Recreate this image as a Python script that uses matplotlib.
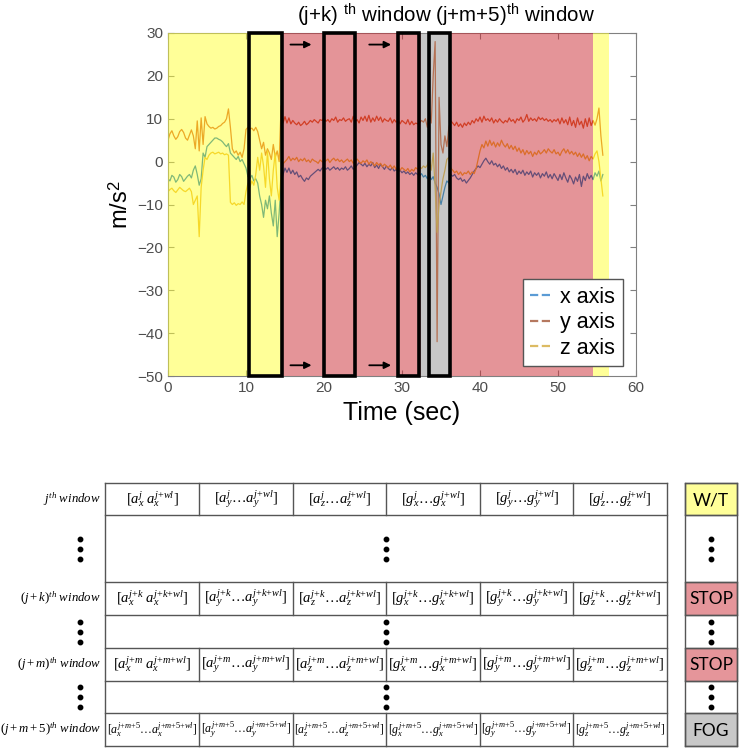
import matplotlib.pyplot as plt
import numpy as np
from matplotlib.lines import Line2D
from matplotlib.patches import Rectangle

plt.rcParams['font.family'] = ['Liberation Sans', 'DejaVu Sans']
plt.rcParams['mathtext.fontset'] = 'custom'
plt.rcParams['mathtext.rm'] = 'Liberation Serif'
plt.rcParams['mathtext.it'] = 'Liberation Serif:italic'
plt.rcParams['mathtext.bf'] = 'Liberation Serif:bold'
plt.rcParams['mathtext.sf'] = 'Liberation Sans'

# accelerometer signals, one sample every 0.25 s
dt = 0.25
acc_x = [-4.0, -4.5, -3.2, -3.6, -4.8, -4.2, -3.0, -3.5, -4.6, -4.0, -3.4, -3.0, -3.8,
         -2.0, -1.0, -3.0, -5.5, -4.0, 2.0, 1.0, 3.5, 4.0, 4.5, 5.0, 5.5,
         5.5, 5.2, 5.0, 4.6, 4.0, 3.5, 4.2, 2.0, 1.5, 1.0, 0.5, 1.2,
         0.0, 0.5, -0.5, -1.5, -3.5, -4.0, -3.2, -4.5, -4.0, -5.0, -8.0, -10.0,
         -13.0, -9.0, -11.0, -8.0, -12.0, -15.0, -9.0, -17.5, -12.0, -5.0, -3.0, -1.5,
         -2.5, -1.5, -2.8, -2.0, -3.0, -2.4, -3.6, -3.2, -4.0, -4.6, -3.8, -4.2,
         -3.4, -3.0, -2.6, -2.2, -1.8, -2.2, -1.5, -1.2, -1.8, -1.4, -2.0, -1.6,
         -1.2, -1.8, -1.4, -2.0, -1.5, -1.8, -1.2, -2.0, -1.6, -1.0, -1.8, -1.4,
         -0.8, -0.2, -0.6, -1.0, -0.4, -1.2, -0.6, -1.0, -0.2, -1.4, -0.8, -1.6,
         -0.6, -1.2, -1.8, -1.0, -1.6, -2.0, -1.4, -2.2, -1.8, -2.4, -2.0, -2.6,
         -2.2, -2.8, -2.4, -3.0, -2.6, -3.2, -2.6, -3.0,
         -3.4, -2.8, -3.6, -3.2, -4.0, -3.0, -4.2, -3.5,
         -5.0, -6.0, -7.5, -10.0, -8.0, -6.0, -4.5, -5.0, -3.0,
         -3.4, -3.0, -3.8,
         -4.2, -3.8, -4.6, -4.2, -5.0, -4.4, -3.8, -3.0, -2.2, -1.6, -1.0, -1.4,
         -0.6, 0.2, 0.8, 0.0, -0.6, 0.2, -0.8, -0.4, -1.2, -0.6, -1.6, -1.0,
         -2.0, -1.4, -2.4, -1.8, -2.6, -1.8, -3.0, -2.2, -2.8, -2.0, -3.2, -2.4,
         -3.0, -2.2, -3.6, -2.6, -3.2, -2.6, -3.8, -2.8, -3.4, -2.4, -3.8, -3.0,
         -4.0, -2.8, -3.6, -4.4, -3.0, -4.2, -2.6, -3.8, -4.8, -3.2, -4.0, -5.2,
         -3.6, -4.6, -3.0, -5.8, -3.4, -4.4, -2.8, -4.0,
         -3.2, -4.2, -2.6, -3.4, -2.2, -4.5, -3.0]
acc_y = [5.0, 6.5, 7.2, 6.0, 5.2, 5.8, 7.0, 7.5, 6.8, 5.5, 5.0, 6.2, 7.4,
         6.0, 3.0, 9.5, 2.5, 10.2, 4.0, 10.5, 8.8, 8.2, 7.8, 8.0, 7.6,
         7.8, 8.2, 8.4, 8.9, 9.2, 10.0, 12.3, 8.0, 3.0, 2.0, 2.5, 1.5,
         2.2, 1.0, 3.0, 7.5, 8.0, 7.6, 7.8, 7.2, 8.0, 7.0, 5.0, 3.0,
         4.5, 1.5, 3.0, 2.0, 0.5, 4.0, 1.0, 2.5, 0.0, 13.0, 9.0, 10.5,
         9.0, 10.2, 8.8, 9.6, 9.0, 8.6, 9.2, 8.4, 8.8, 9.4, 8.6, 9.0,
         9.6, 9.2, 9.8, 9.4, 9.0, 9.8, 9.6, 10.2, 9.4, 9.8, 9.2, 10.0,
         9.6, 10.4, 9.2, 9.8, 9.6, 10.2, 9.4, 9.8, 10.0, 9.2, 10.6, 9.4,
         9.8, 9.0, 10.4, 9.6, 10.6, 9.4, 10.8, 9.2, 10.2, 9.4, 10.6, 9.6,
         10.4, 9.2, 10.0, 9.6, 9.4, 10.2, 9.0, 9.8, 9.2, 9.8, 8.8, 9.6,
         9.2, 8.8, 9.8, 8.6, 9.4, 8.6, 9.0, 8.8,
         9.0, 9.6, 9.2, 10.0, 8.0, 12.0, 9.0, 20.0,
         28.0, -42.0, 15.0, 4.0, 2.0, 6.0, 3.5, 8.0, 9.5,
         9.0, 8.4, 9.2,
         8.2, 8.8, 8.0, 9.0, 8.4, 9.2, 8.6, 9.6, 9.0, 10.0, 9.4, 10.4,
         9.2, 10.6, 9.6, 10.0, 9.4, 10.2, 9.0, 9.8, 9.2, 10.0, 9.4, 9.0,
         9.6, 9.2, 10.2, 9.4, 9.8, 9.0, 10.0, 9.6, 10.4, 9.2, 9.8, 11.0,
         9.4, 10.2, 9.6, 10.0, 9.4, 10.4, 9.8, 10.2, 9.6, 10.0, 9.4, 9.8,
         9.2, 9.8, 9.4, 10.0, 8.8, 10.2, 9.0, 9.8, 8.6, 10.4, 8.4, 9.6,
         8.0, 10.2, 8.6, 9.4, 7.8, 10.0, 8.2, 10.2,
         8.4, 9.6, 8.5, 10.0, 12.5, 6.0, 1.5]
acc_z = [-7.0, -6.5, -6.2, -6.8, -7.2, -6.6, -6.0, -6.4, -6.8, -7.0, -6.6, -6.2, -7.0,
         -10.0, -9.0, -8.0, -17.5, -6.0, -2.0, 1.0, 0.5, 1.5, 2.0, 2.2, 1.8,
         2.0, 2.2, 1.8, 2.0, 1.6, 1.8, 1.5, -9.5, -10.0, -9.6, -10.2, -9.8,
         -10.0, -9.4, -10.0, -7.0, -5.0, -6.0, -4.5, -5.5, -3.0, 1.0, -2.0, 2.0,
         -1.0, -6.0, 2.5, -4.0, -8.0, -2.0, 2.0, -6.0, -9.0, -3.0, -0.5, 0.0,
         0.5, 1.2, 0.2, 0.8, 0.4, 1.0, 0.0, 0.6, 0.2, 0.8, 0.0, 0.4,
         -0.2, 0.6, 0.2, 0.0, -0.4, 0.4, 0.0, -0.2, 0.2, 0.6, -0.2, 0.4,
         0.8, 0.2, 0.6, 0.0, 0.4, -0.2, 0.2, 0.6, 0.0, 0.4, -0.4, 0.2,
         0.6, 0.0, -0.4, 0.2, -0.2, 0.4, -0.6, 0.0, -0.4, -1.0, -0.2, -0.8,
         -0.4, -1.2, -0.6, -1.0, -1.4, -0.8, -1.6, -1.0, -1.8, -1.2, -2.0, -1.4,
         -1.8, -2.2, -1.6, -2.4, -1.8, -2.2, -1.4, -1.8,
         -1.2, -1.6, -1.0, -1.4, -0.8, 1.0, -2.0, 2.0,
         -6.0, -16.5, -10.0, -7.0, -4.0, -2.0, 0.5, 1.0, -1.5,
         -2.0, -2.6, -2.2,
         -3.0, -2.4, -3.2, -2.6, -2.8, -2.2, -3.0, -2.4, -2.8, -1.6, 0.5, 2.5,
         4.0, 3.2, 4.8, 3.6, 5.0, 3.8, 4.6, 3.4, 4.4, 3.6, 5.0, 4.0,
         3.4, 4.2, 3.0, 3.8, 2.8, 3.6, 2.4, 3.2, 2.0, 2.8, 1.6, 2.6,
         1.8, 2.4, 1.2, 2.2, 1.6, 2.6, 1.8, 2.2, 2.8, 2.0, 3.0, 2.4,
         2.0, 2.8, 1.8, 2.2, 1.4, 2.4, 3.0, 2.0, 2.8, 1.8, 2.4, 1.6,
         2.2, 1.2, 2.0, 1.0, 1.8, 0.6, 1.4, 0.2,
         1.2, 0.6, 1.8, 2.5, 0.0, -4.0, -8.0]

# activity segments shaded behind the signal
seg_start = [0, 14.6, 32.4, 36.3, 54.5]
seg_end = [14.6, 32.4, 36.3, 54.5, 56.6]
seg_label = ['W/T', 'STOP', 'FOG', 'STOP', 'W/T']

# sliding windows (black boxes) and arrows between them
win_start = [10.4, 20.0, 29.5, 33.4]
win_end = [14.6, 24.0, 32.2, 36.2]
arrow_start = [15.7, 25.8]
arrow_end = [18.4, 28.6]

# table below the plot
row_names = [r'$j^{th}\ window$', r'$(j+k)^{th}\ window$',
             r'$(j+m)^{th}\ window$', r'$(j+m+5)^{th}\ window$']
row_offsets = ['j', 'j{+}k', 'j{+}m', 'j{+}m{+}5']
sensors = ['a', 'a', 'a', 'g', 'g', 'g']
directions = ['x', 'y', 'z', 'x', 'y', 'z']
row_tags = ['W/T', 'STOP', 'STOP', 'FOG']

overlay = {'W/T': '#ffff33', 'STOP': '#cb2b33', 'FOG': '#919191'}
tag_color = {'W/T': '#ffff99', 'STOP': '#e5959a', 'FOG': '#c8c8c8'}

W, H = 739, 753
fig = plt.figure(figsize=(W / 100, H / 100), dpi=100)

# full-figure pixel axes for the table and free text
tax = fig.add_axes([0, 0, 1, 1])
tax.set_xlim(0, W)
tax.set_ylim(H, 0)
tax.axis('off')

ax = fig.add_axes([168 / W, 1 - 376 / H, 468 / W, 343 / H])
ax.plot(np.arange(len(acc_x)) * dt, acc_x, color='#0072BD', lw=0.9, zorder=2)
ax.plot(np.arange(len(acc_y)) * dt, acc_y, color='#D95319', lw=0.9, zorder=2)
ax.plot(np.arange(len(acc_z)) * dt, acc_z, color='#EDB120', lw=0.9, zorder=2)

for s, e, lab in zip(seg_start, seg_end, seg_label):
    ax.axvspan(s, e, color=overlay[lab], alpha=0.5, lw=0, zorder=3)

for s, e in zip(win_start, win_end):
    ax.add_patch(Rectangle((s, -50), e - s, 80, fill=False, ec='black',
                           lw=2.6, zorder=4, clip_on=False))

for s, e in zip(arrow_start, arrow_end):
    for yy in (27.3, -47.5):
        ax.annotate('', xy=(e, yy), xytext=(s, yy), zorder=6,
                    arrowprops=dict(arrowstyle='-|>', color='black', lw=1.3,
                                    mutation_scale=10, shrinkA=0, shrinkB=0))

ax.set_xlim(0, 60)
ax.set_ylim(-50, 30)
ax.set_xticks(np.arange(0, 61, 10))
ax.set_yticks(np.arange(-50, 31, 10))
ax.tick_params(direction='in', top=True, right=True, length=4, width=0.8,
               colors='#808080', labelcolor='#4d4d4d', labelsize=11)
for sp in ax.spines.values():
    sp.set_color('#808080')
    sp.set_linewidth(0.8)

handles = [Line2D([], [], color=c, ls='--', lw=1.6)
           for c in ['#5b9bd5', '#b5785f', '#dcbb63']]
leg = ax.legend(handles, ['x axis', 'y axis', 'z axis'], loc='lower right',
                bbox_to_anchor=(0.972, 0.029), borderaxespad=0, fontsize=15.5,
                handlelength=1.0, handletextpad=0.4, labelspacing=0.2,
                borderpad=0.35, fancybox=False, framealpha=1,
                edgecolor='#555555')
leg.set_zorder(10)

tax.text(446, 15, r'(j+k) $^{\mathsf{th}}$ window (j+m+5)$^{\mathsf{th}}$ window',
         ha='center', va='center', fontsize=14.8)
tax.text(121, 205, r'm/s$^{\mathsf{2}}$', rotation=90, ha='center', va='center',
         fontsize=17)
tax.text(402, 413, 'Time (sec)', ha='center', va='center', fontsize=18)

# table
cols = [105, 199, 293, 386, 480, 573, 667]
row_edges = [483, 515, 582, 615, 648, 681, 713, 746]
tag_x0, tag_x1 = 685, 737
lc = '#555555'

for y in row_edges:
    tax.plot([cols[0], cols[-1]], [y, y], color=lc, lw=1)
    tax.plot([tag_x0, tag_x1], [y, y], color=lc, lw=1)
for x in (cols[0], cols[-1], tag_x0, tag_x1):
    tax.plot([x, x], [row_edges[0], row_edges[-1]], color=lc, lw=1)

for i in range(len(row_names)):
    y0, y1 = row_edges[2 * i], row_edges[2 * i + 1]
    yc = (y0 + y1) / 2
    for x in cols[1:-1]:
        tax.plot([x, x], [y0, y1], color=lc, lw=1)
    tax.text(101, yc, row_names[i], ha='right', va='center', fontsize=9.2)
    off = row_offsets[i]
    fs = 8.6 if i == 3 else 10.5
    for c in range(6):
        sep = r'\ ' if (c == 0 and i < 3) else r'\ldots '
        s = sensors[c]
        d = directions[c]
        txt = r'$[%s_{%s}^{%s}%s%s_{%s}^{%s{+}wl}]$' % (s, d, off, sep, s, d, off)
        tax.text((cols[c] + cols[c + 1]) / 2, yc, txt, ha='center',
                 va='center', fontsize=fs)
    tag = row_tags[i]
    tax.add_patch(Rectangle((tag_x0, y0), tag_x1 - tag_x0, y1 - y0,
                            fc=tag_color[tag], ec=lc, lw=1))
    tax.text((tag_x0 + tag_x1) / 2, yc + 1, tag, ha='center', va='center',
             fontsize=12.5, family=['Lato', 'DejaVu Sans'])

# vertical ellipses between window rows
for j in range(3):
    yc = (row_edges[2 * j + 1] + row_edges[2 * j + 2]) / 2
    for x in (80, 386, 711):
        tax.plot([x, x, x], [yc - 10, yc, yc + 10], 'o', ms=3.2,
                 color='black', lw=0)

fig.savefig('out.png', dpi=100)
